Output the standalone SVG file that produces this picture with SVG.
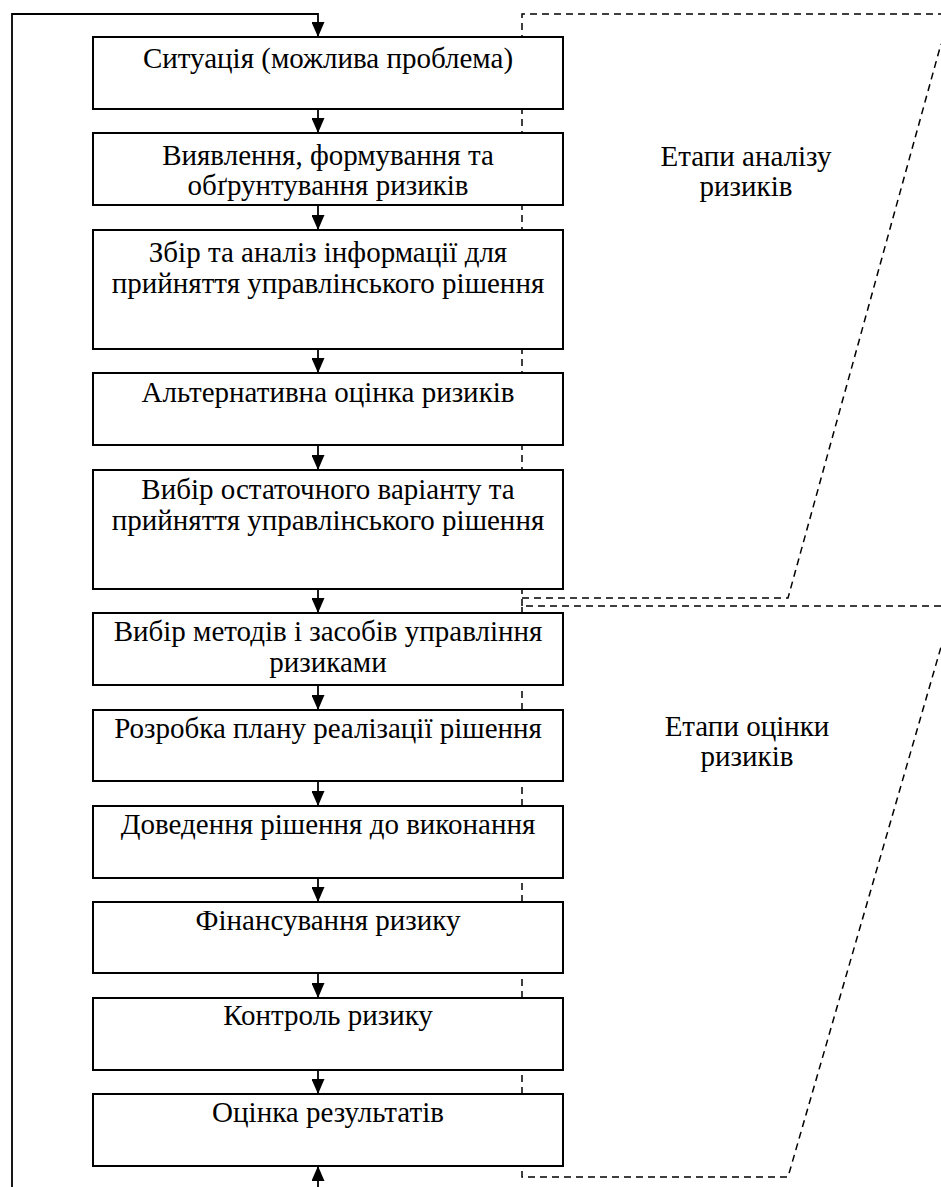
<svg xmlns="http://www.w3.org/2000/svg" width="941" height="1187" viewBox="0 0 941 1187">
<style>
.box{fill:#fff;stroke:#000;stroke-width:2}
.t{font-family:'Liberation Serif','Times New Roman',Times,'DejaVu Serif',serif;font-size:29px;fill:#000;text-anchor:middle}
.ln{fill:none;stroke:#000;stroke-width:1.8}
.ds{fill:none;stroke:#000;stroke-width:1.5;stroke-dasharray:7,5}
</style>
<defs>
<marker id="ah" viewBox="0 0 15 13" refX="15" refY="6.5" markerWidth="15" markerHeight="13" orient="auto" markerUnits="userSpaceOnUse"><path d="M0,0 L15,6.5 L0,13 z" fill="#000"/></marker>
</defs>
<rect width="941" height="1187" fill="#fff"/>
<g id="dashed">
<path class="ds" d="M522,606 L522,14 L941,14"/>
<path class="ds" d="M522,598 L788,598 L941,44"/>
<path class="ds" d="M941,606 L522,606 L522,1177 L788,1177 L941,647"/>
</g>
<g id="connectors">
<path class="ln" d="M12,1187 L12,14 L318,14 L318,37" marker-end="url(#ah)"/>
<path class="ln" d="M318,109 L318,133" marker-end="url(#ah)"/>
<path class="ln" d="M318,205 L318,230" marker-end="url(#ah)"/>
<path class="ln" d="M318,349 L318,373" marker-end="url(#ah)"/>
<path class="ln" d="M318,445 L318,470" marker-end="url(#ah)"/>
<path class="ln" d="M318,589 L318,613" marker-end="url(#ah)"/>
<path class="ln" d="M318,685 L318,710" marker-end="url(#ah)"/>
<path class="ln" d="M318,781 L318,806" marker-end="url(#ah)"/>
<path class="ln" d="M318,878 L318,902" marker-end="url(#ah)"/>
<path class="ln" d="M318,973 L318,998" marker-end="url(#ah)"/>
<path class="ln" d="M318,1070 L318,1094" marker-end="url(#ah)"/>
<path class="ln" d="M318,1187 L318,1166" marker-end="url(#ah)"/>
</g>
<g id="n1"><rect class="box" x="93" y="37" width="470" height="72"/><text class="t" x="328" y="68">Ситуація (можлива проблема)</text></g>
<g id="n2"><rect class="box" x="93" y="133" width="470" height="72"/><text class="t" x="328" y="165">Виявлення, формування та</text><text class="t" x="328" y="195">обґрунтування ризиків</text></g>
<g id="n3"><rect class="box" x="93" y="230" width="470" height="119"/><text class="t" x="328" y="262">Збір та аналіз інформації для</text><text class="t" x="328" y="293">прийняття управлінського рішення</text></g>
<g id="n4"><rect class="box" x="93" y="373" width="470" height="72"/><text class="t" x="328" y="402">Альтернативна оцінка ризиків</text></g>
<g id="n5"><rect class="box" x="93" y="470" width="470" height="119"/><text class="t" x="328" y="499">Вибір остаточного варіанту та</text><text class="t" x="328" y="530">прийняття управлінського рішення</text></g>
<g id="n6"><rect class="box" x="93" y="613" width="470" height="72"/><text class="t" x="328" y="641">Вибір методів і засобів управління</text><text class="t" x="328" y="672">ризиками</text></g>
<g id="n7"><rect class="box" x="93" y="710" width="470" height="71"/><text class="t" x="328" y="738">Розробка плану реалізації рішення</text></g>
<g id="n8"><rect class="box" x="93" y="806" width="470" height="72"/><text class="t" x="328" y="834">Доведення рішення до виконання</text></g>
<g id="n9"><rect class="box" x="93" y="902" width="470" height="71"/><text class="t" x="328" y="930">Фінансування ризику</text></g>
<g id="n10"><rect class="box" x="93" y="998" width="470" height="72"/><text class="t" x="328" y="1025">Контроль ризику</text></g>
<g id="n11"><rect class="box" x="93" y="1094" width="470" height="72"/><text class="t" x="328" y="1122">Оцінка результатів</text></g>
<g id="label1"><text class="t" x="746" y="166">Етапи аналізу</text><text class="t" x="746" y="196">ризиків</text></g>
<g id="label2"><text class="t" x="747" y="736">Етапи оцінки</text><text class="t" x="747" y="766">ризиків</text></g>
</svg>
